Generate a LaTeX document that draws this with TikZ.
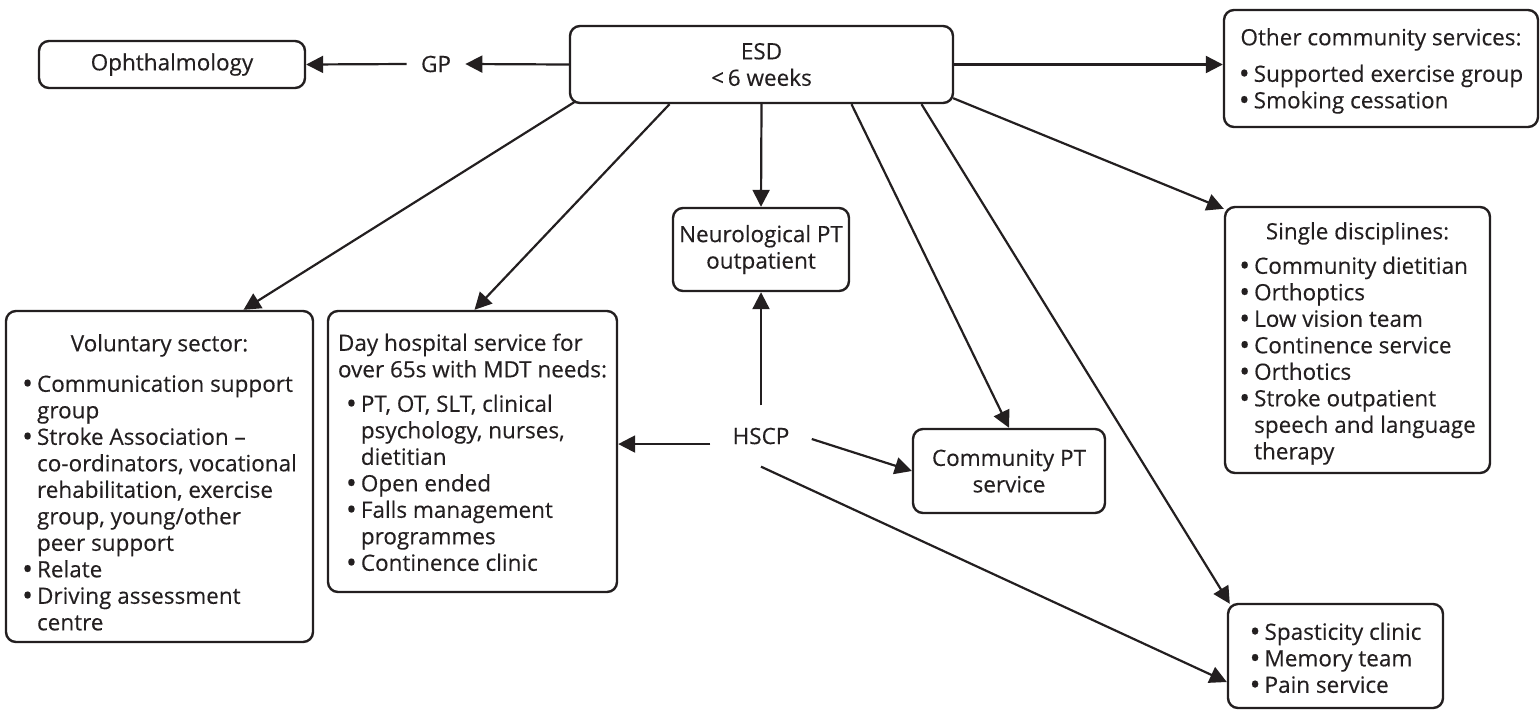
\documentclass[tikz,border=0pt]{standalone}
\usepackage{fontspec}
\setmainfont{Open Sans}[FakeBold=0.3]
\usetikzlibrary{arrows.meta,calc}
\newcommand\diagfont{\fontsize{11.25}{13.25}\selectfont}
\newcommand\bl{\raisebox{-0.9pt}{\fontsize{14.5}{13.25}\selectfont\textbullet}}
\definecolor{ink}{HTML}{231F20}
\begin{document}
\begin{tikzpicture}[x=0.5pt,y=-0.5pt,
  box/.style={draw=ink, text=ink, line width=1.2pt, rounded corners=5pt,
    inner sep=0pt, align=center, font=\diagfont},
  lbl/.style={text=ink, font=\diagfont, inner sep=0pt},
  arr/.style={draw=ink, line width=1.1pt,
    -{Triangle[length=8.5pt,width=8.5pt]}}]
\useasboundingbox (0,0) rectangle (1540,709);

% service boxes
\node[box, minimum width=133pt, minimum height=23.5pt] (oph) at (172,64.5) {Ophthalmology};
\node[lbl, inner xsep=7pt, inner ysep=4pt] (gp) at (436,64) {GP};
\node[box, minimum width=191.5pt, minimum height=38.5pt] (esd) at (761.5,64.5) {ESD\\<\,6 weeks};

\node[box, minimum width=157pt, minimum height=58.5pt] (other) at (1381,68.5)
  {\begin{tabular}{@{}l@{\hspace{2pt}}l@{}}
   \multicolumn{2}{@{}c@{}}{Other community services:}\\[5pt]
   \bl & Supported exercise group\\
   \bl & Smoking cessation\\[-3pt]
   \end{tabular}};

\node[box, minimum width=132.5pt, minimum height=133pt] (single) at (1357.5,340)
  {\begin{tabular}{@{}l@{\hspace{2pt}}l@{}}
   \multicolumn{2}{@{}c@{}}{Single disciplines:}\\[4pt]
   \bl & Community dietitian\\
   \bl & Orthoptics\\
   \bl & Low vision team\\
   \bl & Continence service\\
   \bl & Orthotics\\
   \bl & Stroke outpatient\\
       & speech and language\\
       & therapy\\[-4pt]
   \end{tabular}};

\node[box, minimum width=153.5pt, minimum height=165.5pt] (vol) at (159.5,476.5)
  {\begin{tabular}{@{}l@{\hspace{2pt}}l@{}}
   \multicolumn{2}{@{}c@{}}{Voluntary sector:}\\[7pt]
   \bl & Communication support\\
       & group\\
   \bl & Stroke Association --\\
       & co-ordinators, vocational\\
       & rehabilitation, exercise\\
       & group, young/other\\
       & peer support\\
   \bl & Relate\\
   \bl & Driving assessment\\
       & centre\\[-9pt]
   \end{tabular}};

\node[box, minimum width=144.5pt, minimum height=140.5pt] (day) at (472.5,451.5)
  {\begin{tabular}{@{}l@{\hspace{2pt}}l@{}}
   \multicolumn{2}{@{}l@{}}{Day hospital service for}\\
   \multicolumn{2}{@{}l@{}}{over 65s with MDT needs:}\\[4pt]
   \hspace{4pt}\bl & PT, OT, SLT, clinical\\
       & psychology, nurses,\\
       & dietitian\\
   \hspace{4pt}\bl & Open ended\\
   \hspace{4pt}\bl & Falls management\\
       & programmes\\
   \hspace{4pt}\bl & Continence clinic\\[-4pt]
   \end{tabular}};

\node[box, minimum width=88pt, minimum height=41.5pt] (neuro) at (761,249.5) {Neurological PT\\outpatient};
\node[lbl, inner sep=11pt] (hscp) at (761,436) {HSCP};
\node[box, minimum width=96pt, minimum height=42pt] (cpt) at (1009,471) {Community PT\\service};

\node[box, minimum width=107.5pt, minimum height=52pt] (spas) at (1335.5,656)
  {\begin{tabular}{@{}l@{\hspace{2pt}}l@{}}
   \bl & Spasticity clinic\\
   \bl & Memory team\\
   \bl & Pain service\\[-5pt]
   \end{tabular}};

% referrals from ESD
\draw[arr] (esd.west) -- (gp.east);
\draw[arr] (gp.west) -- (oph.east);
\draw[arr] (esd.east) -- (esd.east -| other.west);
\draw[arr] ($(esd.south west)+(7,-3)$) -- ($(vol.north)+(84,0)$);
\draw[arr] ($(esd.south)+(-92,0)$) -- ($(day.north)+(2,0)$);
\draw[arr] (esd.south) -- (neuro.north);
\draw[arr] ($(esd.south)+(90,0)$) -- (cpt.north);
\draw[arr] ($(esd.south)+(160,0)$) -- ($(spas.north west)+(3,1)$);
\draw[arr] ($(esd.south east)+(-1,-6)$) -- ($(single.north west)+(0,3)$);

% referrals from HSCP
\draw[arr] (hscp.north) -- (neuro.south);
\draw[arr] (hscp.base west) -- (hscp.base west -| day.east);
\draw[arr] ($(hscp.east)+(0,3)$) -- (cpt.west);
\draw[arr] (hscp.south) -- ($(spas.west)+(0,26)$);
\end{tikzpicture}
\end{document}
